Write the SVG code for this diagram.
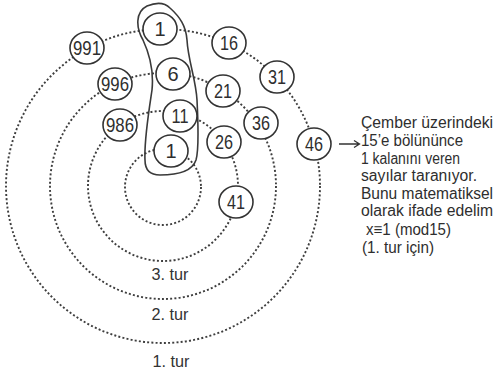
<svg xmlns="http://www.w3.org/2000/svg" width="498" height="374" viewBox="0 0 498 374">
<style>
.ring{fill:none;stroke:#3e3e3e;stroke-width:1.9;stroke-dasharray:2 2.2}
.node ellipse{fill:#fff;stroke:#333;stroke-width:1.6}
.node text{font-family:"Liberation Sans",Arial,sans-serif;font-size:20px;fill:#2e2e2e;text-anchor:middle}
.lbl{font-family:"Liberation Sans",Arial,sans-serif;font-size:17px;fill:#333;text-anchor:middle}
.note{font-family:"Liberation Sans",Arial,sans-serif;font-size:16px;fill:#2e2e2e}
.blob{fill:none;stroke:#3a3a3a;stroke-width:1.6}
</style>
<rect width="498" height="374" fill="#fff"/>
<g id="connectors">
<circle class="ring" cx="163" cy="186" r="157"/>
<circle class="ring" cx="163" cy="186" r="113"/>
<circle class="ring" cx="163" cy="186" r="75"/>
<circle class="ring" cx="163" cy="187" r="38"/>
<path d="M339 144 H359 M354 140.5 L359.5 144 L354 147.5" fill="none" stroke="#333" stroke-width="1.3"/>
</g>
<g id="blob">
<path class="blob" d="M147 6 C157 2 165 3 170 8 C180 17 186 26 187 40 C188 60 196 80 197 100 C198 120 199 150 196 160 C192 172 175 175 160 175 C150 175 145 170 145 160 C144 140 149 110 152 90 C154 70 150 55 143 40 C136 28 135 12 147 6 Z"/>
</g>
<g id="n1a" class="node"><ellipse cx="160" cy="29" rx="17" ry="16"/><text x="160" y="36">1</text></g>
<g id="n16" class="node"><ellipse cx="229" cy="43" rx="17" ry="16"/><text x="229" y="50" textLength="18" lengthAdjust="spacingAndGlyphs">16</text></g>
<g id="n31" class="node"><ellipse cx="277" cy="77" rx="17" ry="16"/><text x="277" y="84" textLength="18" lengthAdjust="spacingAndGlyphs">31</text></g>
<g id="n46" class="node"><ellipse cx="314" cy="144" rx="17" ry="16"/><text x="314" y="151" textLength="18" lengthAdjust="spacingAndGlyphs">46</text></g>
<g id="n991" class="node"><ellipse cx="87" cy="48" rx="17" ry="16"/><text x="87" y="55" textLength="28" lengthAdjust="spacingAndGlyphs">991</text></g>
<g id="n6" class="node"><ellipse cx="173" cy="74" rx="17" ry="16"/><text x="173" y="81">6</text></g>
<g id="n996" class="node"><ellipse cx="115" cy="84" rx="17" ry="16"/><text x="115" y="91" textLength="28" lengthAdjust="spacingAndGlyphs">996</text></g>
<g id="n21" class="node"><ellipse cx="223" cy="91" rx="17" ry="16"/><text x="223" y="98" textLength="18" lengthAdjust="spacingAndGlyphs">21</text></g>
<g id="n36" class="node"><ellipse cx="261" cy="123" rx="17" ry="16"/><text x="261" y="130" textLength="18" lengthAdjust="spacingAndGlyphs">36</text></g>
<g id="n11" class="node"><ellipse cx="180" cy="116" rx="17" ry="16"/><text x="180" y="123" textLength="17" lengthAdjust="spacingAndGlyphs">11</text></g>
<g id="n986" class="node"><ellipse cx="120" cy="125" rx="17" ry="16"/><text x="120" y="132" textLength="28" lengthAdjust="spacingAndGlyphs">986</text></g>
<g id="n26" class="node"><ellipse cx="224" cy="142" rx="17" ry="16"/><text x="224" y="149" textLength="18" lengthAdjust="spacingAndGlyphs">26</text></g>
<g id="n1b" class="node"><ellipse cx="171" cy="151" rx="17" ry="16"/><text x="171" y="158">1</text></g>
<g id="n41" class="node"><ellipse cx="236" cy="202" rx="17" ry="16"/><text x="236" y="209" textLength="18" lengthAdjust="spacingAndGlyphs">41</text></g>
<g id="labels">
<text class="lbl" x="170" y="280" textLength="37" lengthAdjust="spacingAndGlyphs">3. tur</text>
<text class="lbl" x="170" y="320" textLength="37" lengthAdjust="spacingAndGlyphs">2. tur</text>
<text class="lbl" x="171" y="367" textLength="37" lengthAdjust="spacingAndGlyphs">1. tur</text>
</g>
<g id="note">
<text class="note" x="361" y="128" textLength="132" lengthAdjust="spacingAndGlyphs">Çember üzerindeki</text>
<text class="note" x="361" y="146" textLength="102" lengthAdjust="spacingAndGlyphs">15’e bölününce</text>
<text class="note" x="361" y="163.5" textLength="99" lengthAdjust="spacingAndGlyphs">1 kalanını veren</text>
<text class="note" x="361" y="181" textLength="116" lengthAdjust="spacingAndGlyphs">sayılar taranıyor.</text>
<text class="note" x="361" y="198.5" textLength="132" lengthAdjust="spacingAndGlyphs">Bunu matematiksel</text>
<text class="note" x="361" y="216" textLength="132" lengthAdjust="spacingAndGlyphs">olarak ifade edelim</text>
<text class="note" x="366" y="235" textLength="85" lengthAdjust="spacingAndGlyphs">x≡1 (mod15)</text>
<text class="note" x="362" y="253" textLength="72" lengthAdjust="spacingAndGlyphs">(1. tur için)</text>
</g>
</svg>
